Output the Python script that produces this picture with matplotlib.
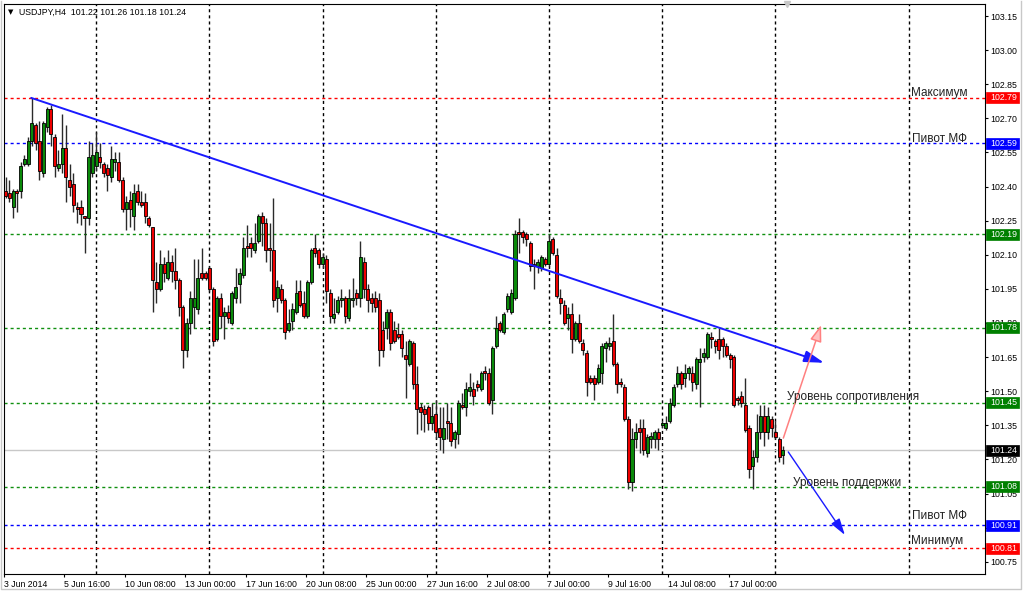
import matplotlib
matplotlib.use('Agg')
import matplotlib.pyplot as plt
from matplotlib.patches import Rectangle, FancyArrowPatch
from matplotlib.lines import Line2D
import matplotlib.transforms as mtransforms

plt.rcParams['font.family'] = ['Liberation Sans', 'DejaVu Sans']

# ---------------- data (USDJPY H4, bars from 3 Jun 2014) ----------------
opens = [102.38, 102.37, 102.31, 102.38, 102.38, 102.50, 102.50, 102.60, 102.67, 102.60,
         102.46, 102.66, 102.74, 102.62, 102.48, 102.50, 102.57, 102.43, 102.41, 102.31,
         102.31, 102.27, 102.26, 102.46, 102.49, 102.53, 102.50, 102.48, 102.44, 102.51,
         102.51, 102.43, 102.30, 102.34, 102.27, 102.38, 102.33, 102.33, 102.26, 102.22,
         101.98, 101.95, 102.06, 102.00, 102.07, 102.03, 101.99, 101.87, 101.68, 101.80,
         101.87, 101.86, 102.02, 102.02, 102.04, 101.95, 101.73, 101.91, 101.83, 101.85,
         101.80, 101.91, 101.97, 102.01, 102.14, 102.15, 102.12, 102.16, 102.27, 102.24,
         102.13, 102.12, 101.91, 101.95, 101.90, 101.77, 101.81, 101.85, 101.94, 101.89,
         101.83, 101.98, 102.13, 102.12, 102.06, 102.08, 101.93, 101.82, 101.85, 101.90,
         101.91, 101.82, 101.90, 101.93, 101.91, 102.07, 101.95, 101.91, 101.91, 101.90,
         101.77, 101.78, 101.85, 101.77, 101.75, 101.75, 101.66, 101.62, 101.71, 101.53,
         101.43, 101.42, 101.43, 101.36, 101.40, 101.34, 101.29, 101.37, 101.36, 101.29,
         101.31, 101.44, 101.43, 101.50, 101.51, 101.53, 101.51, 101.59, 101.58, 101.46,
         101.70, 101.80, 101.76, 101.86, 101.85, 101.91, 102.20, 102.20, 102.19, 102.15,
         102.06, 102.05, 102.04, 102.08, 102.06, 102.17, 102.10, 101.91, 101.88, 101.82,
         101.84, 101.73, 101.80, 101.71, 101.67, 101.56, 101.56, 101.54, 101.58, 101.69,
         101.70, 101.72, 101.62, 101.54, 101.52, 101.38, 101.10, 101.29, 101.34, 101.34,
         101.23, 101.29, 101.29, 101.32, 101.35, 101.34, 101.37, 101.44, 101.53, 101.58,
         101.56, 101.58, 101.58, 101.53, 101.63, 101.65, 101.65, 101.74, 101.72, 101.73,
         101.73, 101.70, 101.66, 101.65, 101.47, 101.48, 101.44, 101.34, 101.17, 101.21,
         101.32, 101.39, 101.32, 101.38, 101.32, 101.29, 101.22]
highs = [102.44, 102.43, 102.39, 102.39, 102.51, 102.54, 102.62, 102.79, 102.68, 102.69,
         102.69, 102.75, 102.76, 102.63, 102.56, 102.72, 102.67, 102.50, 102.46, 102.33,
         102.34, 102.27, 102.60, 102.59, 102.64, 102.59, 102.51, 102.50, 102.58, 102.55,
         102.55, 102.44, 102.36, 102.38, 102.41, 102.41, 102.38, 102.37, 102.27, 102.22,
         102.07, 102.12, 102.09, 102.12, 102.10, 102.13, 102.00, 101.88, 101.82, 101.94,
         102.08, 102.08, 102.13, 102.03, 102.05, 101.96, 101.92, 101.93, 101.87, 101.88,
         101.94, 102.04, 102.04, 102.18, 102.23, 102.18, 102.24, 102.28, 102.29, 102.26,
         102.24, 102.35, 101.99, 101.97, 101.91, 101.86, 101.89, 101.99, 101.99, 101.94,
         101.99, 102.13, 102.19, 102.13, 102.11, 102.10, 101.95, 101.91, 101.92, 101.95,
         101.92, 101.95, 102.00, 101.95, 102.16, 102.09, 101.97, 101.93, 101.94, 101.93,
         101.81, 101.86, 101.86, 101.81, 101.80, 101.77, 101.72, 101.73, 101.72, 101.61,
         101.45, 101.44, 101.44, 101.45, 101.46, 101.43, 101.43, 101.45, 101.43, 101.33,
         101.46, 101.49, 101.54, 101.58, 101.54, 101.55, 101.59, 101.61, 101.60, 101.70,
         101.83, 101.81, 101.85, 101.93, 101.95, 102.21, 102.26, 102.21, 102.20, 102.16,
         102.08, 102.08, 102.10, 102.09, 102.19, 102.18, 102.13, 101.95, 101.90, 101.87,
         101.89, 101.81, 101.84, 101.73, 101.68, 101.57, 101.57, 101.62, 101.71, 101.72,
         101.74, 101.84, 101.63, 101.56, 101.53, 101.39, 101.34, 101.36, 101.38, 101.38,
         101.31, 101.32, 101.33, 101.34, 101.37, 101.39, 101.47, 101.53, 101.61, 101.59,
         101.62, 101.61, 101.61, 101.65, 101.69, 101.69, 101.76, 101.76, 101.73, 101.78,
         101.74, 101.71, 101.67, 101.66, 101.48, 101.50, 101.56, 101.35, 101.24, 101.40,
         101.44, 101.44, 101.43, 101.39, 101.37, 101.30, 101.26]
lows = [102.35, 102.33, 102.26, 102.29, 102.35, 102.49, 102.49, 102.58, 102.56, 102.43,
        102.44, 102.64, 102.58, 102.44, 102.47, 102.46, 102.33, 102.36, 102.29, 102.24,
        102.23, 102.11, 102.23, 102.44, 102.47, 102.48, 102.44, 102.38, 102.42, 102.47,
        102.42, 102.29, 102.21, 102.22, 102.21, 102.32, 102.31, 102.24, 102.22, 101.85,
        101.89, 101.94, 101.98, 101.99, 101.98, 101.95, 101.83, 101.60, 101.65, 101.75,
        101.78, 101.84, 101.99, 101.99, 101.94, 101.70, 101.72, 101.78, 101.73, 101.80,
        101.79, 101.89, 101.89, 102.00, 102.09, 102.09, 102.11, 102.15, 102.14, 102.07,
        102.03, 101.87, 101.85, 101.89, 101.73, 101.76, 101.77, 101.84, 101.87, 101.82,
        101.82, 101.97, 102.09, 102.04, 102.04, 101.89, 101.80, 101.80, 101.84, 101.87,
        101.80, 101.81, 101.87, 101.88, 101.87, 101.91, 101.85, 101.85, 101.85, 101.61,
        101.65, 101.73, 101.68, 101.71, 101.73, 101.65, 101.47, 101.61, 101.51, 101.31,
        101.33, 101.32, 101.33, 101.33, 101.29, 101.24, 101.23, 101.29, 101.26, 101.25,
        101.27, 101.42, 101.39, 101.48, 101.44, 101.50, 101.50, 101.55, 101.44, 101.40,
        101.69, 101.76, 101.75, 101.85, 101.84, 101.90, 102.11, 102.15, 102.14, 102.03,
        101.95, 102.02, 102.03, 102.05, 102.05, 102.10, 101.91, 101.84, 101.79, 101.77,
        101.67, 101.72, 101.71, 101.66, 101.48, 101.53, 101.46, 101.53, 101.53, 101.63,
        101.68, 101.61, 101.49, 101.52, 101.37, 101.07, 101.06, 101.25, 101.23, 101.22,
        101.21, 101.25, 101.25, 101.24, 101.34, 101.33, 101.36, 101.43, 101.52, 101.51,
        101.52, 101.55, 101.50, 101.51, 101.43, 101.63, 101.64, 101.69, 101.67, 101.64,
        101.65, 101.65, 101.60, 101.43, 101.44, 101.43, 101.32, 101.12, 101.07, 101.19,
        101.29, 101.26, 101.29, 101.30, 101.29, 101.19, 101.18]
closes = [102.36, 102.35, 102.38, 102.37, 102.49, 102.52, 102.60, 102.68, 102.59, 102.47,
          102.68, 102.74, 102.63, 102.49, 102.50, 102.57, 102.44, 102.40, 102.32, 102.30,
          102.28, 102.26, 102.53, 102.54, 102.55, 102.51, 102.46, 102.45, 102.52, 102.52,
          102.43, 102.30, 102.33, 102.30, 102.37, 102.33, 102.32, 102.27, 102.23, 101.99,
          101.95, 102.06, 102.02, 102.07, 102.03, 101.99, 101.87, 101.68, 101.80, 101.91,
          101.91, 102.00, 102.00, 102.00, 101.95, 101.72, 101.91, 101.83, 101.85, 101.82,
          101.93, 101.96, 102.02, 102.13, 102.13, 102.13, 102.15, 102.27, 102.24, 102.12,
          102.12, 101.90, 101.96, 101.90, 101.76, 101.80, 101.86, 101.93, 101.88, 101.83,
          101.98, 102.12, 102.11, 102.06, 102.09, 101.94, 101.83, 101.84, 101.90, 101.91,
          101.83, 101.91, 101.91, 101.91, 102.09, 101.95, 101.90, 101.89, 101.87, 101.68,
          101.68, 101.85, 101.71, 101.72, 101.74, 101.69, 101.64, 101.72, 101.53, 101.42,
          101.41, 101.40, 101.36, 101.39, 101.32, 101.30, 101.34, 101.36, 101.28, 101.32,
          101.45, 101.43, 101.51, 101.52, 101.48, 101.52, 101.58, 101.58, 101.45, 101.69,
          101.78, 101.77, 101.84, 101.92, 101.93, 102.19, 102.19, 102.18, 102.17, 102.05,
          102.05, 102.07, 102.09, 102.06, 102.16, 102.11, 101.92, 101.89, 101.80, 101.84,
          101.73, 101.80, 101.72, 101.68, 101.54, 101.54, 101.53, 101.60, 101.70, 101.71,
          101.71, 101.62, 101.53, 101.53, 101.38, 101.10, 101.29, 101.32, 101.32, 101.24,
          101.30, 101.305, 101.32, 101.29, 101.36, 101.36, 101.45, 101.52, 101.58, 101.53,
          101.58, 101.60, 101.54, 101.64, 101.64, 101.67, 101.75, 101.73, 101.70, 101.68,
          101.70, 101.66, 101.64, 101.44, 101.46, 101.45, 101.33, 101.16, 101.21, 101.32,
          101.39, 101.32, 101.39, 101.34, 101.30, 101.21, 101.24]

date_positions = [0, 16, 32, 48, 64, 80, 96, 112, 128, 144, 160, 176, 192]
date_labels = ['3 Jun 2014', '5 Jun 16:00', '10 Jun 08:00', '13 Jun 00:00', '17 Jun 16:00',
               '20 Jun 08:00', '25 Jun 00:00', '27 Jun 16:00', '2 Jul 08:00', '7 Jul 00:00',
               '9 Jul 16:00', '14 Jul 08:00', '17 Jul 00:00']
week_grid = [24, 54, 84, 114, 144, 174, 204, 239.5]
y_ticks = [103.15, 103.00, 102.85, 102.70, 102.55, 102.40, 102.25, 102.10, 101.95,
           101.80, 101.65, 101.50, 101.35, 101.20, 101.05, 100.90, 100.75]
# tick labels hidden behind price tags in the reference
hidden_tick_labels = [100.90]

level_prices = [102.79, 102.59, 102.19, 101.78, 101.45, 101.08, 100.91, 100.81]
level_colors = ['#ff0000', '#0000ff', '#109010', '#109010', '#109010', '#109010', '#0000ff', '#ff0000']
tag_colors = ['#ff0000', '#0000ff', '#008000', '#008000', '#008000', '#008000', '#0000ff', '#ff0000']
current_price = 101.24

label_texts = ['Максимум', 'Пивот МФ', 'Уровень сопротивления', 'Уровень поддержки', 'Пивот МФ', 'Минимум']
label_x = [239.9, 240.1, 207.1, 208.6, 240.2, 239.8]
label_y = [102.800, 102.598, 101.463, 101.085, 100.940, 100.830]

trend_x = [6.8, 216.9]
trend_y = [102.79, 101.625]
up_arrow_x = [206.1, 216.1]
up_arrow_y = [101.294, 101.791]
down_arrow_x = [207.4, 222.4]
down_arrow_y = [101.233, 100.868]

title = 'USDJPY,H4  101.22 101.26 101.18 101.24'

# ---------------- figure ----------------
W, H = 1024, 593
fig = plt.figure(figsize=(W / 100, H / 100), dpi=100)
fig.patch.set_facecolor('white')
ax = fig.add_axes([4 / W, (H - 574) / H, 980.5 / W, 570 / H])
ax.set_xlim(-0.4, 259.4)
ax.set_ylim(100.6962, 103.2028)
ax.set_facecolor('white')

# vertical grid
for g in week_grid:
    ax.axvline(g, color='black', lw=1.0, ls=(0, (2.2, 2.2)), zorder=1)

# level lines
for p, c in zip(level_prices, level_colors):
    ax.axhline(p, color=c, lw=1.0, ls=(0, (2.2, 2.2)), zorder=1)
ax.axhline(current_price, color='#c8c8c8', lw=1.0, zorder=1)

# candles
idx = list(range(len(opens)))
ax.vlines(idx, lows, highs, colors='#2a2a2a', lw=1.0, zorder=2)
bottoms = [min(o, c) for o, c in zip(opens, closes)]
heights = [max(abs(c - o), 0.004) for o, c in zip(opens, closes)]
cols = ['#0a8a0a' if c >= o else '#ee0000' for o, c in zip(opens, closes)]
ax.bar(idx, heights, bottom=bottoms, width=0.8, color=cols, edgecolor='black',
       linewidth=0.6, zorder=3)

# trend line & arrows
ax.add_patch(FancyArrowPatch((trend_x[0], trend_y[0]), (trend_x[1], trend_y[1]),
                             arrowstyle='-|>,head_length=1.2,head_width=0.35', mutation_scale=10,
                             color='#1a1aff', lw=1.4, shrinkA=0, shrinkB=0, zorder=4))
ax.add_patch(FancyArrowPatch((up_arrow_x[0], up_arrow_y[0]), (up_arrow_x[1], up_arrow_y[1]),
                             arrowstyle='-|>,head_length=1.0,head_width=0.35', mutation_scale=10,
                             facecolor='#ffc0c0', edgecolor='#ff8080', lw=1.1,
                             shrinkA=0, shrinkB=0, zorder=4))
ax.add_patch(FancyArrowPatch((down_arrow_x[0], down_arrow_y[0]), (down_arrow_x[1], down_arrow_y[1]),
                             arrowstyle='-|>,head_length=1.0,head_width=0.3', mutation_scale=10,
                             color='#1a1aff', lw=1.0, shrinkA=0, shrinkB=0, zorder=4))

# level labels
for t, x, y in zip(label_texts, label_x, label_y):
    ax.text(x, y, t, fontsize=8.5, color='#222222', ha='left', va='baseline', zorder=5)

# axes styling
for s in ax.spines.values():
    s.set_color('black')
    s.set_linewidth(0.8)
ax.yaxis.tick_right()
ax.set_yticks(y_ticks)
ax.set_yticklabels(['' if v in hidden_tick_labels else '%.2f' % v for v in y_ticks])
ax.tick_params(axis='y', direction='out', length=2.2, width=0.8, labelsize=6.3, pad=1.8,
               colors='black')
ax.set_xticks([p - 0.4 for p in date_positions])
ax.set_xticklabels(date_labels)
for lbl in ax.get_xticklabels():
    lbl.set_ha('left')
ax.tick_params(axis='x', direction='out', length=2.2, width=0.8, labelsize=6.3, pad=2.0,
               colors='black')

# price tags on the right axis
blend = mtransforms.blended_transform_factory(ax.transAxes, ax.transData)
tag_h = 11 * (103.2028 - 100.6962) / 570
for p, c in zip(level_prices + [current_price], tag_colors + ['#000000']):
    ax.add_patch(Rectangle((982 / 980.5, p - tag_h / 2), 33 / 980.5, tag_h, transform=blend,
                           facecolor=c, edgecolor=c, lw=0.5, clip_on=False, zorder=10))
    ax.text(986 / 980.5, p, '%.2f' % p, transform=blend, color='white', fontsize=6.3,
            ha='left', va='center', zorder=11, clip_on=False)

# title
fig.text(11 / W, 1 - 12 / H, '▼', fontsize=5, ha='center', va='center', family='DejaVu Sans')
fig.text(19 / W, 1 - 12 / H, title, fontsize=6.3, ha='left', va='center', color='black')

# chart-shift marker and outer frame
fig.add_artist(Line2D([787 / W], [1 - 4 / H], marker='v', color='#c8c8c8', markersize=5,
                      transform=fig.transFigure))
fig.add_artist(Line2D([1 / W, 1 / W, 1021 / W, 1021 / W], [1 - 1 / H, 1 - 589 / H, 1 - 589 / H, 1 - 1 / H],
                      color='#c8c8c8', lw=1.0, transform=fig.transFigure))

fig.savefig('out.png', dpi=100)
